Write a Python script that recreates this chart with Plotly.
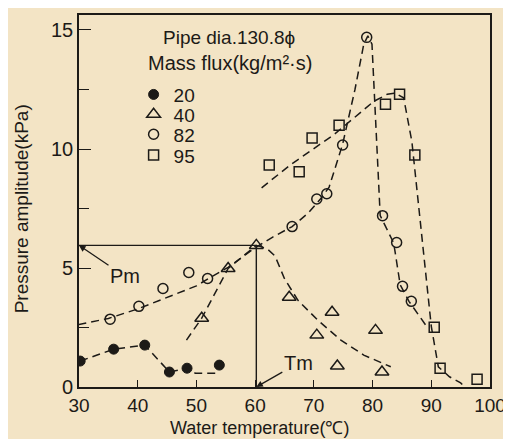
import plotly.graph_objects as go

# ---- data ----
# Mass flux 20 kg/m2s (filled circles)
t20 = [30.2, 35.9, 41.2, 45.4, 48.4, 53.9]
p20 = [1.09, 1.59, 1.76, 0.63, 0.79, 0.92]
# Mass flux 40 (triangles)
t40 = [50.9, 55.4, 60.2, 65.8, 70.5, 73.1, 74.0, 80.5, 81.6]
p40 = [2.89, 4.98, 5.95, 3.77, 2.18, 3.14, 0.88, 2.38, 0.63]
# Mass flux 82 (open circles)
t82 = [35.3, 40.2, 44.3, 48.7, 51.9, 66.3, 70.5, 72.2, 74.9, 79.0, 81.7, 84.1, 85.1, 86.6]
p82 = [2.85, 3.39, 4.14, 4.81, 4.56, 6.74, 7.90, 8.12, 10.17, 14.69, 7.20, 6.07, 4.23, 3.60]
# Mass flux 95 (open squares)
t95 = [62.4, 67.5, 69.7, 74.3, 82.2, 84.6, 87.2, 90.5, 91.5, 97.8]
p95 = [9.33, 9.04, 10.46, 11.00, 11.88, 12.30, 9.75, 2.51, 0.79, 0.33]

# hand-drawn trend curves (dashed)
c20_t = [30.2, 35.9, 41.2, 45.4, 48.4, 49.8, 53.3]
c20_p = [1.09, 1.59, 1.76, 0.63, 0.79, 0.58, 0.58]
c40a_t = [48.3, 50.9, 55.4, 60.2]
c40a_p = [1.97, 2.89, 4.98, 5.95]
c40b_t = [60.2, 62.0, 63.4, 65.0, 67.3, 70.7, 74.6, 78.5, 83.1]
c40b_p = [5.95, 5.82, 5.50, 4.55, 3.64, 2.80, 1.97, 1.34, 0.85]
c82_t = [29.9, 35.0, 40.0, 45.0, 50.0, 52.0, 55.4, 60.0, 63.0, 66.3, 69.0, 71.3, 72.6,
         74.9, 77.0, 78.5, 79.2, 79.9, 81.3, 82.5, 83.6, 84.7, 86.2, 89.2]
c82_p = [2.62, 2.88, 3.28, 3.75, 4.25, 4.55, 5.03, 5.85, 6.30, 6.74, 7.30, 7.95, 8.40,
         10.2, 12.5, 14.4, 14.75, 14.4, 7.20, 6.60, 6.05, 4.30, 3.60, 2.55]
c95_t = [61.1, 66.1, 73.4, 80.2, 82.5, 83.8, 85.3, 86.7, 90.0, 91.2, 93.1, 95.0, 95.7]
c95_p = [8.37, 9.35, 10.60, 12.00, 12.30, 12.35, 12.15, 10.30, 2.55, 0.85, 0.43, 0.17, 0.0]

# peak markers
Tm = 60.2
Pm = 5.95

x_ticks = [30, 40, 50, 60, 70, 80, 90, 100]
y_ticks = [0, 5, 10, 15]
series_names = ["20", "40", "82", "95"]

INK = "#1c1a17"
PAPER = "#f3e4c5"
FONT = "Liberation Sans"
dash = "8px,5px"

fig = go.Figure()

# trend curves
for tx, py in [(c20_t, c20_p), (c40a_t, c40a_p), (c40b_t, c40b_p), (c82_t, c82_p), (c95_t, c95_p)]:
    fig.add_trace(go.Scatter(x=tx, y=py, mode="lines", showlegend=False, hoverinfo="skip",
                             line=dict(color=INK, width=1.5, dash=dash)))

# Pm / Tm guide lines
fig.add_trace(go.Scatter(x=[x_ticks[0], Tm, Tm], y=[Pm, Pm, 0], mode="lines", showlegend=False,
                         line=dict(color=INK, width=1.4)))

marker_specs = [
    (t20, p20, series_names[0], dict(symbol="circle", size=10, color=INK, line=dict(color=INK, width=1)), "legend2"),
    (t40, p40, series_names[1], dict(symbol="triangle-up-open", size=12, color=INK, line=dict(color=INK, width=1.5)), "legend3"),
    (t82, p82, series_names[2], dict(symbol="circle-open", size=10, color=INK, line=dict(color=INK, width=1.5)), "legend4"),
    (t95, p95, series_names[3], dict(symbol="square-open", size=10, color=INK, line=dict(color=INK, width=1.5)), "legend5"),
]
for tx, py, nm, mk, lg in marker_specs:
    fig.add_trace(go.Scatter(x=tx, y=py, mode="markers", name=nm, marker=mk, legend=lg))

# page offset of 8 px (body margin) is compensated; helpers take screen pixels.
# plot area on screen: left 79, right 493, top 13, bottom 387
def sy(py):
    return (387 - py) / 374.0

def sx(px):
    return (px - 79) / 414.0

leg_common = dict(bgcolor="rgba(0,0,0,0)", font=dict(family=FONT, size=19, color=INK),
                  xanchor="left", yanchor="middle", itemwidth=30, borderwidth=0)
leg_x = sx(134)
rows = [93, 113, 133, 154]
layout_legends = {}
for i, r in enumerate(rows):
    key = "legend" + str(i + 2)
    layout_legends[key] = dict(x=leg_x, y=sy(r), **leg_common)

def txt(text, x, y, size, **kw):
    d = dict(text=text, x=sx(x), y=sy(y), xref="paper", yref="paper", showarrow=False,
             xanchor="center", yanchor="middle", font=dict(family=FONT, size=size, color=INK))
    d.update(kw)
    return d

annotations = [
    txt("Pipe dia.130.8ϕ", 230, 36, 19),
    txt("Mass flux(kg/m²·s)", 231, 61, 20),
    txt("Water temperature(℃)", 261, 428, 18),
    txt("Pressure amplitude(kPa)", 22, 208, 19, textangle=-90),
    dict(text="Pm", x=x_ticks[0], y=Pm, xref="x", yref="y", ax=46, ay=31,
         showarrow=True, arrowhead=2, arrowsize=1, arrowwidth=1.3, arrowcolor=INK,
         font=dict(family=FONT, size=20, color=INK)),
    dict(text="Tm", x=Tm, y=0, xref="x", yref="y", ax=42, ay=-24,
         showarrow=True, arrowhead=2, arrowsize=1, arrowwidth=1.3, arrowcolor=INK,
         font=dict(family=FONT, size=20, color=INK)),
]

fig.update_layout(
    width=503, height=431,
    margin=dict(l=71, r=18, t=5, b=52),
    paper_bgcolor=PAPER, plot_bgcolor=PAPER,
    font=dict(family=FONT, color=INK),
    annotations=annotations,
    **layout_legends,
)
fig.update_xaxes(range=[30, 100], tickvals=x_ticks, ticktext=[str(v) for v in x_ticks],
                 ticks="inside", ticklen=7, tickwidth=1.3, tickcolor=INK,
                 showline=True, linecolor=INK, linewidth=1.6, mirror=True,
                 showgrid=False, zeroline=False,
                 tickfont=dict(family=FONT, size=19, color=INK))
fig.update_yaxes(range=[0, 15.63], tickvals=y_ticks, ticktext=[str(v) for v in y_ticks],
                 ticks="inside", ticklen=12, tickwidth=1.3, tickcolor=INK,
                 minor=dict(dtick=2.5, ticks="inside", ticklen=10, tickwidth=1.3, tickcolor=INK, showgrid=False),
                 showline=True, linecolor=INK, linewidth=1.6, mirror=True,
                 showgrid=False, zeroline=False,
                 tickfont=dict(family=FONT, size=20, color=INK))

fig.write_html("out.html")
